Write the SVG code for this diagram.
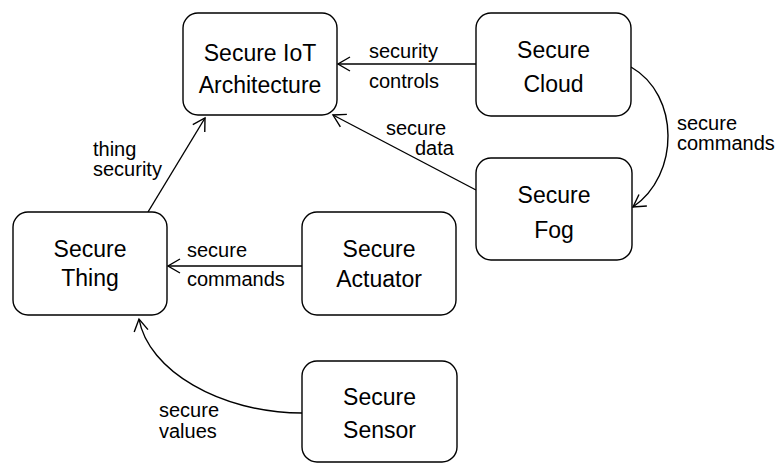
<svg xmlns="http://www.w3.org/2000/svg" width="778" height="464" viewBox="0 0 778 464">
<defs>
<marker id="arr" markerUnits="userSpaceOnUse" markerWidth="20" markerHeight="20" viewBox="-14 -10 16 20" refX="0" refY="0" orient="auto">
<path d="M-12,-7 L0,0 L-12,7" fill="none" stroke="#000" stroke-width="1.4"/>
</marker>
</defs>
<style>
.box{fill:#fff;stroke:#000;stroke-width:1.4}
.nt{font-family:"Liberation Sans",Arial,sans-serif;font-size:23px;text-anchor:middle;fill:#000}
.lb{font-family:"Liberation Sans",Arial,sans-serif;font-size:20px;fill:#000}
.edge{fill:none;stroke:#000;stroke-width:1.4;marker-end:url(#arr)}
</style>
<rect width="778" height="464" fill="#fff"/>
<g id="connectors">
<path class="edge" d="M476,64 L338,64"/>
<path class="edge" d="M631,67 C680,95 680,175 633,207"/>
<path class="edge" d="M476,190 L333,115"/>
<path class="edge" d="M148,212 L205,118"/>
<path class="edge" d="M302,266 L168,266"/>
<path class="edge" d="M302,413 C220,413 148,370 139,319"/>
</g>
<g id="edge-labels">
<text class="lb" x="369" y="58">security</text>
<text class="lb" x="369" y="88">controls</text>
<text class="lb" x="677" y="130">secure</text>
<text class="lb" x="677" y="150">commands</text>
<text class="lb" x="386" y="135">secure</text>
<text class="lb" x="415" y="155">data</text>
<text class="lb" x="93" y="156">thing</text>
<text class="lb" x="93" y="176">security</text>
<text class="lb" x="187" y="257">secure</text>
<text class="lb" x="187" y="286">commands</text>
<text class="lb" x="159" y="417">secure</text>
<text class="lb" x="159" y="438">values</text>
</g>
<g id="architecture">
<rect class="box" x="183" y="13" width="154" height="102" rx="15"/>
<text class="nt" x="260" y="61">Secure IoT</text>
<text class="nt" x="260" y="93">Architecture</text>
</g>
<g id="cloud">
<rect class="box" x="476" y="13" width="155" height="103" rx="15"/>
<text class="nt" x="553.5" y="58">Secure</text>
<text class="nt" x="553.5" y="92">Cloud</text>
</g>
<g id="fog">
<rect class="box" x="476" y="158" width="156" height="102" rx="15"/>
<text class="nt" x="554" y="203">Secure</text>
<text class="nt" x="554" y="238">Fog</text>
</g>
<g id="thing">
<rect class="box" x="13" y="212" width="154" height="103" rx="15"/>
<text class="nt" x="90" y="257">Secure</text>
<text class="nt" x="90" y="286">Thing</text>
</g>
<g id="actuator">
<rect class="box" x="302" y="212" width="154" height="103" rx="15"/>
<text class="nt" x="379" y="257">Secure</text>
<text class="nt" x="379" y="287">Actuator</text>
</g>
<g id="sensor">
<rect class="box" x="302" y="361" width="155" height="101" rx="15"/>
<text class="nt" x="379.5" y="405">Secure</text>
<text class="nt" x="379.5" y="438">Sensor</text>
</g>
</svg>
